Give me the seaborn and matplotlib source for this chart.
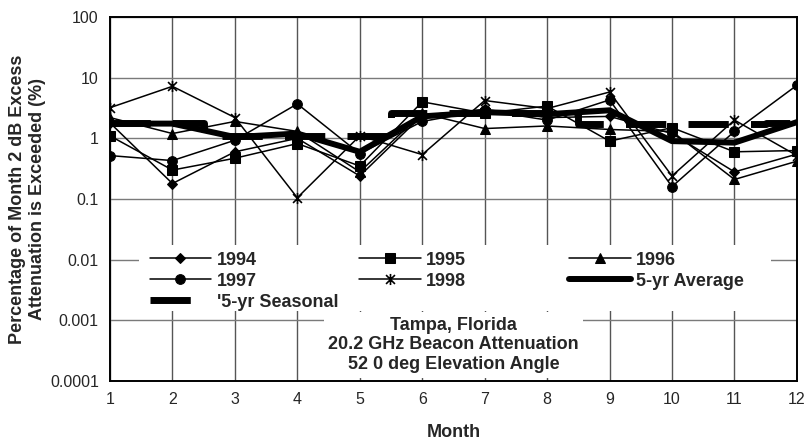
import matplotlib
matplotlib.use("Agg")
import matplotlib.pyplot as plt
from matplotlib.path import Path
from matplotlib.patches import Rectangle
import seaborn as sns

# data
months = list(range(1, 13))
y1994 = [1.8, 0.18, 0.6, 1.0, 0.24, 2.4, 3.0, 2.2, 2.3, 1.2, 0.28, 0.55]
y1995 = [1.1, 0.30, 0.47, 0.82, 0.35, 4.0, 2.6, 3.4, 0.9, 1.5, 0.60, 0.63]
y1996 = [2.2, 1.2, 1.9, 1.3, 0.28, 2.6, 1.45, 1.6, 1.4, 1.3, 0.21, 0.42]
y1997 = [0.52, 0.43, 0.93, 3.7, 0.56, 1.9, 2.9, 2.0, 4.3, 0.16, 1.3, 7.5]
y1998 = [3.2, 7.2, 2.2, 0.105, 1.1, 0.54, 4.2, 3.1, 5.8, 0.24, 2.0, 0.52]
avg_5yr = [1.75, 1.75, 1.05, 1.2, 0.6, 2.3, 2.7, 2.5, 2.9, 0.9, 0.85, 1.85]
seasonal_5yr = [1.8, 1.8, 1.1, 1.1, 1.1, 2.6, 2.6, 2.6, 1.7, 1.7, 1.7, 1.8]

ytick_vals = [0.0001, 0.001, 0.01, 0.1, 1, 10, 100]
ytick_labels = ["0.0001", "0.001", "0.01", "0.1", "1", "10", "100"]

sns.set_style("white")
plt.rcParams['font.family'] = ['Liberation Sans', 'DejaVu Sans']

# X with a vertical bar, like the 1998 marker
star_x = Path([(-1, -1), (1, 1), (-1, 1), (1, -1), (0, -1.25), (0, 1.25)],
              [Path.MOVETO, Path.LINETO, Path.MOVETO, Path.LINETO, Path.MOVETO, Path.LINETO])

fig = plt.figure(figsize=(8.11, 4.42), dpi=100)
ax = fig.add_axes([0.1356, 0.138, 0.847, 0.8235])

years = [
    ("1994", y1994, "D", 5),
    ("1995", y1995, "s", 6.5),
    ("1996", y1996, "^", 7),
    ("1997", y1997, "o", 7),
]
for name, vals, mk, ms in years:
    sns.lineplot(x=months, y=vals, ax=ax, color="black", lw=1.1, marker=mk,
                 markersize=ms, markeredgecolor="black", label=name, zorder=3)
sns.lineplot(x=months, y=y1998, ax=ax, color="black", lw=1.1, marker=star_x,
             markersize=8, markerfacecolor="none", markeredgecolor="black",
             markeredgewidth=1.2, label="1998", zorder=3)
sns.lineplot(x=months, y=avg_5yr, ax=ax, color="black", lw=4.3,
             solid_capstyle="round", label="5-yr Average", zorder=4)
sns.lineplot(x=months, y=seasonal_5yr, ax=ax, color="black", lw=5,
             drawstyle="steps-mid", label="'5-yr Seasonal", zorder=4)
seas_line = ax.get_lines()[-1]
seas_line.set_dashes([5.8, 3.2])
seas_line.set_dash_capstyle("butt")

ax.set_yscale("log")
ax.set_ylim(0.0001, 100)
ax.set_xlim(1, 12)
ax.set_xticks(months)
ax.set_xticklabels([str(m) for m in months], fontsize=11.5)
ax.set_yticks(ytick_vals)
ax.set_yticklabels(ytick_labels, fontsize=11.5)
ax.tick_params(axis="both", direction="in", length=4, width=1, pad=8)
ax.tick_params(axis="y", which="minor", direction="in", length=2.5, width=0.8)
ax.tick_params(axis="x", which="minor", length=0)

ax.grid(True, axis="y", which="major", color="#7a7a7a", lw=1)
ax.grid(True, axis="x", which="major", color="#555555", lw=1)
ax.set_axisbelow(True)
for sp in ax.spines.values():
    sp.set_color("black")
    sp.set_linewidth(1.4)
    sp.set_zorder(8)

ax.set_xlabel("Month", fontsize=13, fontweight="bold", labelpad=12)
ax.set_ylabel("Percentage of Month 2 dB Excess\nAttenuation is Exceeded (%)",
              fontsize=13, fontweight="bold", labelpad=3, linespacing=1.2)

# white panel behind the legend, hiding the grid
ax.add_patch(Rectangle((0.042, 0.192), 0.92, 0.182, transform=ax.transAxes,
                       facecolor="white", edgecolor="none", zorder=5))

handles, labels = ax.get_legend_handles_labels()
leg_kw = dict(frameon=False, handlelength=3.4, handletextpad=0.3,
              labelspacing=0.22, borderpad=0.15, borderaxespad=0,
              prop={"weight": "bold", "size": 13})
order = [0, 3, 1, 4, 2, 5]
leg = ax.legend([handles[i] for i in order], [labels[i] for i in order],
                ncol=3, loc="upper left", bbox_to_anchor=(0.054, 0.363),
                columnspacing=5.7, **leg_kw)
leg.set_zorder(6)
ax.add_artist(leg)
leg2 = ax.legend([handles[6]], [labels[6]], loc="upper left",
                 bbox_to_anchor=(0.054, 0.247), **leg_kw)
leg2.set_zorder(6)

ax.text(0.5, 0.099, "Tampa, Florida\n20.2 GHz Beacon Attenuation\n52 0 deg Elevation Angle",
        transform=ax.transAxes, ha="center", va="center", fontsize=13,
        fontweight="bold", linespacing=1.2, zorder=7,
        bbox=dict(facecolor="white", edgecolor="none", boxstyle="square,pad=0.25"))

fig.savefig("out.png", dpi=100)
